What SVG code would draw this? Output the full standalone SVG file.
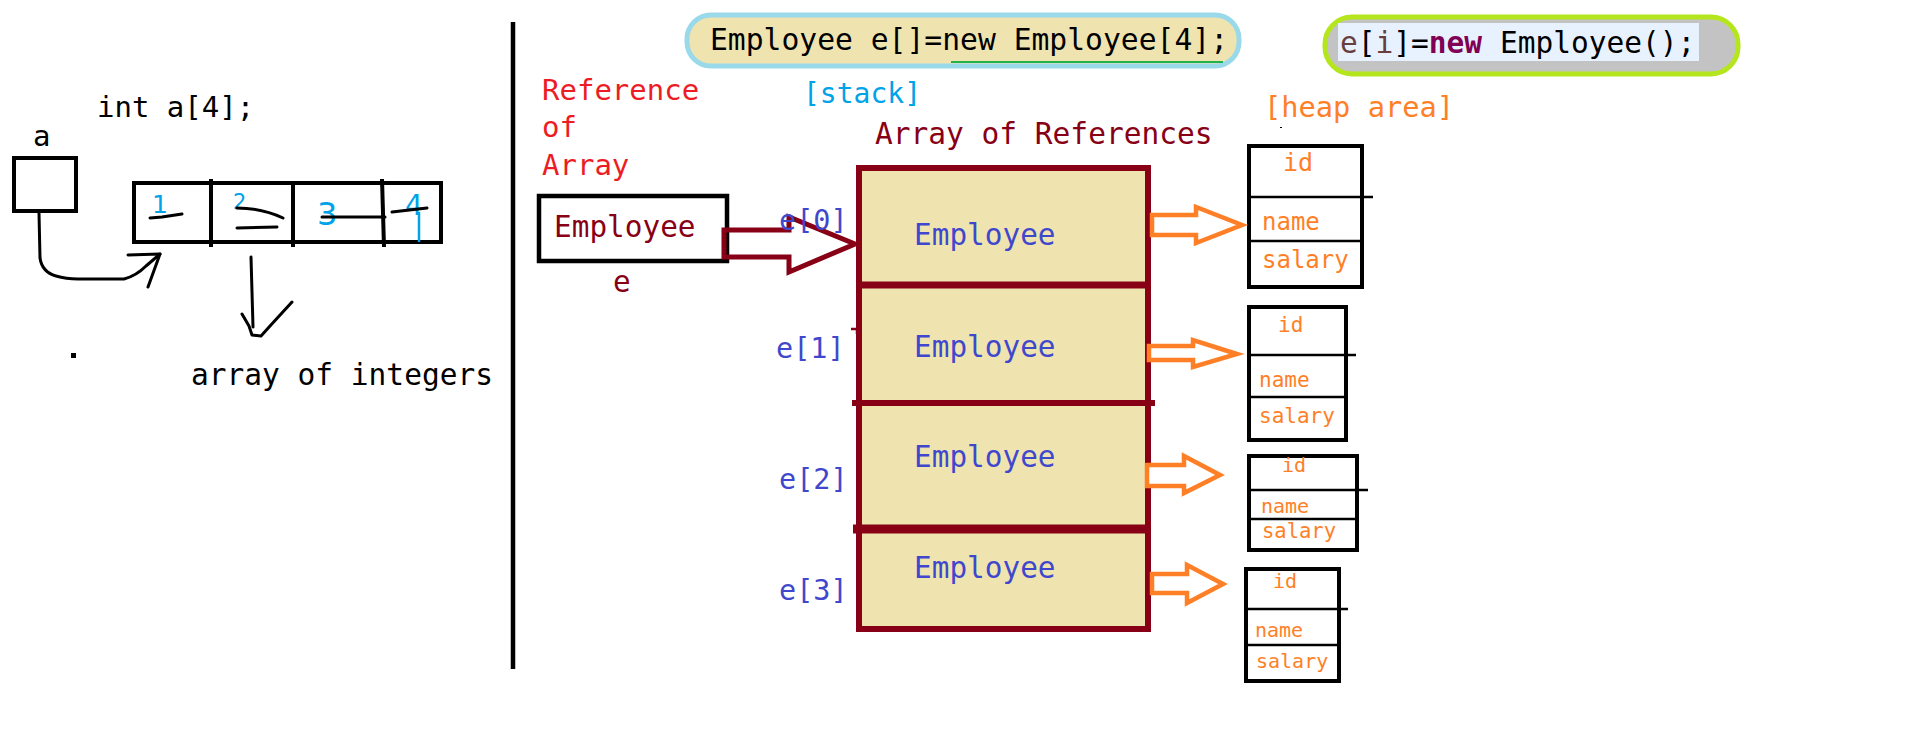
<svg xmlns="http://www.w3.org/2000/svg" width="1914" height="734" viewBox="0 0 1914 734">
<style>
.m{font-family:"DejaVu Sans Mono","Liberation Mono",monospace}
.blk{fill:#000}
.red{fill:#ed1c24}
.dr{fill:#880015}
.ind{fill:#3f48cc}
.org{fill:#ff7f27}
.hbox{fill:#fff;stroke:#000;stroke-width:4}
.hdiv{stroke:#000;stroke-width:2.5}
.oarr{fill:#fff;stroke:#ff7f27;stroke-width:4.5;stroke-linejoin:miter}
.ink{fill:none;stroke:#000;stroke-width:3;stroke-linecap:round;stroke-linejoin:round}
.dig{font-family:"DejaVu Sans","Liberation Sans",sans-serif;fill:#00a2e8}
</style>
<rect width="1914" height="734" fill="#fff"/>

<!-- left: int array -->
<g id="int-decl">
<text class="m blk" x="97" y="117" font-size="29">int a[4];</text>
</g>
<g id="var-a">
<text class="m blk" x="33" y="146" font-size="29">a</text>
<rect x="14" y="158" width="62" height="53" fill="#fff" stroke="#000" stroke-width="4"/>
</g>
<g id="int-array">
<rect x="134" y="183" width="307" height="59" fill="#fff" stroke="#000" stroke-width="4"/>
<line x1="211" y1="179" x2="211" y2="247" stroke="#000" stroke-width="4"/>
<line x1="293" y1="181" x2="293" y2="247" stroke="#000" stroke-width="4"/>
<line x1="382" y1="179" x2="384" y2="247" stroke="#000" stroke-width="4"/>
<text class="dig" x="152" y="213" font-size="25">1</text>
<text class="dig" x="233" y="209" font-size="21">2</text>
<text class="dig" x="317" y="225" font-size="32">3</text>
<text class="dig" x="405" y="215" font-size="28">4</text>
<line x1="419" y1="212" x2="419" y2="242" stroke="#00a2e8" stroke-width="2.5"/>
<path class="ink" d="M150,218 L162,217 L182,214"/>
<path class="ink" d="M237,208 Q262,208 283,218"/>
<path class="ink" d="M237,228 L277,227"/>
<path class="ink" d="M322,217 L385,217"/>
<path class="ink" d="M392,212 L427,208"/>
</g>
<g id="label-array-of-integers">
<text class="m blk" x="191" y="385" font-size="29.5">array of integers</text>
<rect x="71" y="353" width="5" height="5" fill="#000"/>
</g>
<g id="left-connectors">
<path class="ink" d="M39,213 L40,258 Q42,272 56,276 Q66,279 78,279 L124,279 Q136,276 146,266 L160,254"/>
<path class="ink" d="M128,255 L160,254 L148,287"/>
<path class="ink" d="M251,257 L253,327"/>
<path class="ink" d="M242,314 L249,326 L252,335 L261,336 L270,326 L292,302"/>
</g>

<!-- divider -->
<line x1="513" y1="22" x2="513" y2="669" stroke="#000" stroke-width="4.5"/>

<!-- code pills -->
<g id="code-array">
<rect x="687" y="15" width="552" height="51" rx="24" fill="#efe4b0" stroke="#99d9ea" stroke-width="5"/>
<text class="m blk" x="710" y="50" font-size="30" textLength="518" lengthAdjust="spacingAndGlyphs">Employee e[]=new Employee[4];</text>
<line x1="951" y1="62" x2="1223" y2="62" stroke="#22b14c" stroke-width="2"/>
</g>
<g id="code-object">
<rect x="1325" y="17" width="413" height="57" rx="27" fill="#c3c3c3" stroke="#b5e61d" stroke-width="5"/>
<rect x="1338" y="23" width="361" height="38" fill="#e8f2fe"/>
<text class="m" x="1340" y="53" font-size="29.5" fill="#000"><tspan fill="#6a3e3e">e</tspan>[<tspan fill="#6a3e3e">i</tspan>]=<tspan fill="#7f0055" font-weight="bold">new</tspan> Employee();</text>
</g>

<!-- labels -->
<g id="label-ref-of-array">
<text class="m red" x="542" y="100" font-size="29">Reference</text>
<text class="m red" x="542" y="137" font-size="29">of</text>
<text class="m red" x="542" y="175" font-size="29">Array</text>
</g>
<g id="label-stack"><text class="m" x="803" y="103" font-size="28" fill="#00a2e8">[stack]</text></g>
<g id="label-array-of-refs"><text class="m dr" x="875" y="144" font-size="29.5">Array of References</text></g>
<g id="label-heap">
<text class="m org" x="1264" y="117" font-size="28.7">[heap area]</text>
<rect x="1280" y="127" width="2" height="1" fill="#000"/>
</g>

<!-- reference variable e -->
<g id="ref-e">
<rect x="539" y="196" width="188" height="65" fill="#fff" stroke="#000" stroke-width="4.5"/>
<text class="m dr" x="554" y="237" font-size="29.4">Employee</text>
<text class="m dr" x="613" y="292" font-size="29.4">e</text>
</g>

<!-- array of references -->
<g id="ref-array">
<rect x="859" y="168" width="289" height="461" fill="#efe4b0" stroke="#880015" stroke-width="6"/>
<line x1="856" y1="285" x2="1151" y2="285" stroke="#880015" stroke-width="7"/>
<line x1="852" y1="403" x2="1155" y2="403" stroke="#880015" stroke-width="6"/>
<line x1="853" y1="529" x2="1151" y2="529" stroke="#880015" stroke-width="9"/>
<path d="M851,329 L857,329 L857,334" fill="none" stroke="#880015" stroke-width="2.5"/>
<text class="m ind" x="914" y="245" font-size="29.4">Employee</text>
<text class="m ind" x="914" y="357" font-size="29.4">Employee</text>
<text class="m ind" x="914" y="467" font-size="29.4">Employee</text>
<text class="m ind" x="914" y="578" font-size="29.4">Employee</text>
</g>
<g id="index-labels">
<text class="m ind" x="776" y="358" font-size="28.5">e[1]</text>
<text class="m ind" x="779" y="489" font-size="28.5">e[2]</text>
<text class="m ind" x="779" y="600" font-size="28.5">e[3]</text>
</g>

<!-- heap objects -->
<g id="heap-obj-0">
<rect class="hbox" x="1249" y="146" width="113" height="141"/>
<line class="hdiv" x1="1247" y1="197" x2="1373" y2="197" stroke-width="3"/>
<line class="hdiv" x1="1247" y1="241" x2="1361" y2="241"/>
<text class="m org" x="1283" y="171" font-size="25">id</text>
<text class="m org" x="1262" y="230" font-size="24">name</text>
<text class="m org" x="1262" y="268" font-size="24">salary</text>
</g>
<g id="heap-obj-1">
<rect class="hbox" x="1249" y="307" width="97" height="133" stroke-width="3.5"/>
<line class="hdiv" x1="1247" y1="355" x2="1356" y2="355"/>
<line class="hdiv" x1="1247" y1="397" x2="1345" y2="397" stroke-width="2"/>
<text class="m org" x="1278" y="332" font-size="21">id</text>
<text class="m org" x="1259" y="387" font-size="21">name</text>
<text class="m org" x="1259" y="423" font-size="21">salary</text>
</g>
<g id="heap-obj-2">
<rect class="hbox" x="1249" y="456" width="108" height="94" stroke-width="3.5"/>
<line class="hdiv" x1="1247" y1="490" x2="1368" y2="490"/>
<line class="hdiv" x1="1247" y1="519" x2="1356" y2="519" stroke-width="2"/>
<text class="m org" x="1282" y="472" font-size="20">id</text>
<text class="m org" x="1261" y="513" font-size="20">name</text>
<text class="m org" x="1262" y="538" font-size="20.5">salary</text>
</g>
<g id="heap-obj-3">
<rect class="hbox" x="1246" y="569" width="93" height="112" stroke-width="3.5"/>
<line class="hdiv" x1="1244" y1="609" x2="1348" y2="609"/>
<line class="hdiv" x1="1244" y1="645" x2="1339" y2="645"/>
<text class="m org" x="1273" y="588" font-size="20">id</text>
<text class="m org" x="1255" y="637" font-size="20">name</text>
<text class="m org" x="1256" y="668" font-size="20">salary</text>
</g>

<!-- connectors -->
<g id="connectors">
<polygon points="724,230 789,230 789,217 855,244 789,272 789,257 724,257" fill="none" stroke="#880015" stroke-width="5"/>
<text class="m ind" x="779" y="230" font-size="28.5">e[0]</text>
<polygon class="oarr" points="1152,215 1196,215 1196,207 1242,225 1196,243 1196,235 1152,235"/>
<polygon class="oarr" points="1149,346 1193,346 1193,340 1237,354 1193,367 1193,360 1149,360"/>
<polygon class="oarr" points="1147,465 1184,465 1184,456 1220,475 1184,493 1184,486 1147,486"/>
<polygon class="oarr" points="1152,574 1187,574 1187,565 1223,584 1187,603 1187,593 1152,593"/>
</g>
</svg>
